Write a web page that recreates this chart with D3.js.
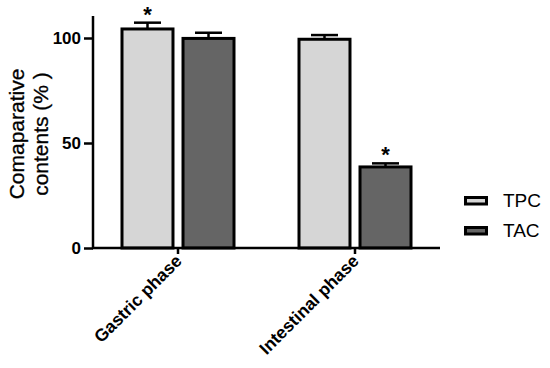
<!DOCTYPE html>
<html>
<head>
<meta charset="utf-8">
<script src="https://cdn.jsdelivr.net/npm/d3@7"></script>
<style>
  body { margin: 0; background: #fff; }
  svg { display: block; font-family: "Liberation Sans", Arial, sans-serif; }
</style>
</head>
<body>
<svg id="chart" width="550" height="368"></svg>
<script>
// data
var phases = ["Gastric phase", "Intestinal phase"];
var series = ["TPC", "TAC"];
var tpcValues = [104.3, 99.4];
var tacValues = [99.8, 38.6];
var tpcErrors = [3.0, 2.0];
var tacErrors = [2.7, 1.7];
var tpcStar = [true, false];
var tacStar = [false, true];
var yTicks = [0, 50, 100];

var COLORS = { "TPC": "#d6d6d6", "TAC": "#656565" };

var svg = d3.select("#chart");

var rows = [];
phases.forEach(function (p, i) {
    rows.push({ phase: p, key: "TPC", value: tpcValues[i], err: tpcErrors[i], star: tpcStar[i] });
    rows.push({ phase: p, key: "TAC", value: tacValues[i], err: tacErrors[i], star: tacStar[i] });
});

// scales
var y = d3.scaleLinear().domain([0, 110]).range([248, 17]);
var x0 = d3.scaleBand().domain(phases).range([89.5, 443.5]);
var x1 = d3.scaleBand().domain(series).range([-57.5, 57.5]).paddingInner(0.115);

function cx(d) { return x0(d.phase) + x0.bandwidth() / 2 + x1(d.key); }

// bars
svg.append("g").selectAll("rect")
    .data(rows)
    .enter().append("rect")
    .attr("x", function (d) { return cx(d) + 1.5; })
    .attr("y", function (d) { return y(d.value); })
    .attr("width", x1.bandwidth() - 3)
    .attr("height", function (d) { return y(0) - y(d.value); })
    .attr("fill", function (d) { return COLORS[d.key]; })
    .attr("stroke", "#000")
    .attr("stroke-width", 3);

// error bars
var eb = svg.append("g").attr("stroke", "#000").attr("stroke-width", 2.5);
rows.forEach(function (d) {
    var mx = cx(d) + x1.bandwidth() / 2;
    eb.append("line")
        .attr("x1", mx).attr("x2", mx)
        .attr("y1", y(d.value)).attr("y2", y(d.value + d.err));
    eb.append("line")
        .attr("x1", mx - 13.5).attr("x2", mx + 13.5)
        .attr("y1", y(d.value + d.err)).attr("y2", y(d.value + d.err));
});

// significance
svg.append("g").selectAll("text")
    .data(rows.filter(function (d) { return d.star; }))
    .enter().append("text")
    .attr("x", function (d) { return cx(d) + x1.bandwidth() / 2; })
    .attr("y", function (d) { return y(d.value + d.err) - 1; })
    .attr("text-anchor", "middle")
    .attr("font-size", 22)
    .attr("font-weight", "bold")
    .text("*");

// y axis
var yAxis = svg.append("g")
    .attr("transform", "translate(93,0)")
    .call(d3.axisLeft(y).tickValues(yTicks).tickSize(9).tickPadding(3).tickFormat(d3.format("d")));
yAxis.select(".domain").attr("d", "M0,16V249").attr("stroke-width", 2.5);
yAxis.selectAll(".tick line").attr("stroke-width", 2.5);
yAxis.selectAll(".tick text")
    .attr("font-size", 17).attr("font-weight", "bold").attr("fill", "#000")
    .attr("font-family", "Liberation Sans, Arial, sans-serif");

// x axis
var xAxis = svg.append("g")
    .attr("transform", "translate(0,248)")
    .call(d3.axisBottom(x0).tickSize(6).tickFormat(""));
xAxis.select(".domain").attr("d", "M92,0H440").attr("stroke-width", 2.5);
xAxis.selectAll(".tick line").attr("stroke-width", 2.5);

svg.append("g").selectAll("text")
    .data(phases)
    .enter().append("text")
    .attr("transform", function (d) {
        return "translate(" + (x0(d) + x0.bandwidth() / 2 + 5) + ",262) rotate(-45)";
    })
    .attr("text-anchor", "end")
    .attr("font-size", 17.5)
    .attr("font-weight", "bold")
    .text(function (d) { return d; });

// y title
var yt = svg.append("text")
    .attr("transform", "translate(0,134) rotate(-90)")
    .attr("text-anchor", "middle")
    .attr("font-size", 21)
    .attr("fill", "#000")
    .attr("stroke", "#000")
    .attr("stroke-width", 0.3);
yt.append("tspan").attr("x", 0).attr("y", 24).text("Comaparative");
yt.append("tspan").attr("x", 0).attr("y", 48).text("contents (% )");

// legend
var lg = svg.append("g").selectAll("g")
    .data(series)
    .enter().append("g")
    .attr("transform", function (d, i) { return "translate(464," + (196 + i * 30) + ")"; });
lg.append("rect")
    .attr("x", 1.5).attr("y", 1.5)
    .attr("width", 21).attr("height", 6.5)
    .attr("fill", function (d) { return COLORS[d]; })
    .attr("stroke", "#000").attr("stroke-width", 3);
lg.append("text")
    .attr("x", 39).attr("y", 4.5)
    .attr("dy", "0.35em")
    .attr("font-size", 19)
    .text(function (d) { return d; });
</script>
</body>
</html>
